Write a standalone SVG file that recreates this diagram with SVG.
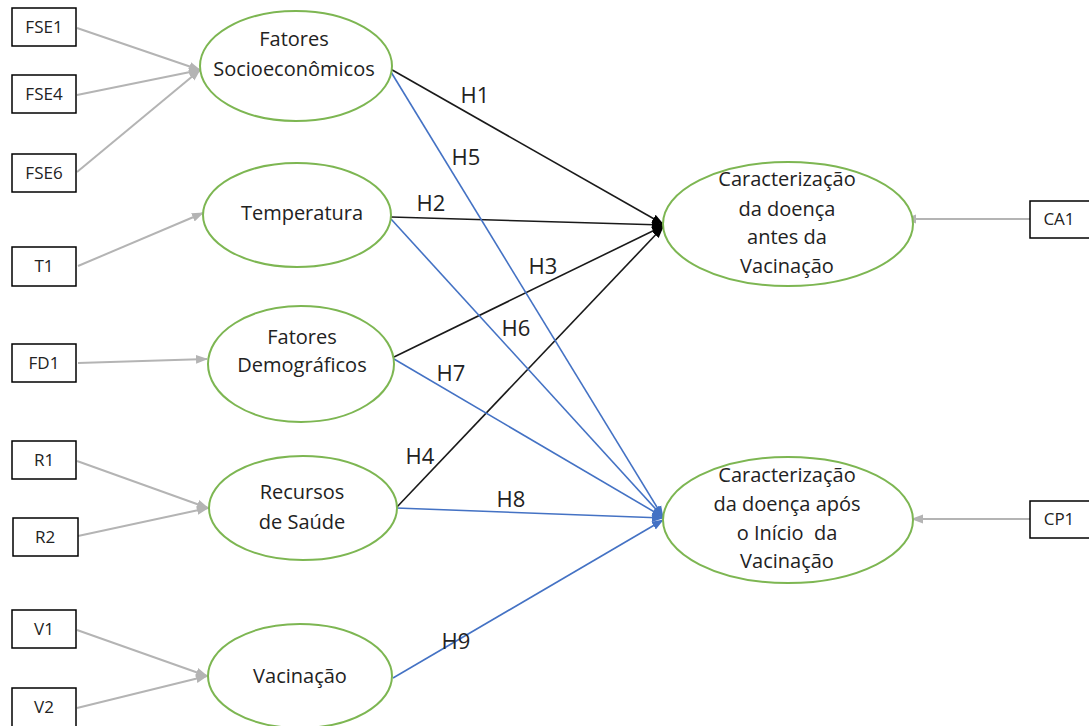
<svg xmlns="http://www.w3.org/2000/svg" width="1089" height="726" viewBox="0 0 1089 726">
<style>
.box{fill:#fff;stroke:#000;stroke-width:1.5}
.ell{fill:#fff;stroke:#7DB652;stroke-width:2}
.t{font-family:"Open Sans","Liberation Sans",sans-serif;fill:#222;text-anchor:middle}
.tb{font-size:17px}
.te{font-size:20px}
.th{font-size:22px}
.g{stroke:#B4B4B4;stroke-width:2;fill:none;marker-end:url(#ag)}
.k{stroke:#1a1a1a;stroke-width:1.6;fill:none;marker-end:url(#ak)}
.b{stroke:#4472C4;stroke-width:1.6;fill:none;marker-end:url(#ab)}
</style>
<defs>
<marker id="ag" markerUnits="userSpaceOnUse" markerWidth="12" markerHeight="12" viewBox="0 0 12 12" refX="11" refY="6" orient="auto"><path d="M0,1.5 L12,6 L0,10.5 Z" fill="#B4B4B4"/></marker>
<marker id="ak" markerUnits="userSpaceOnUse" markerWidth="12" markerHeight="12" viewBox="0 0 12 12" refX="11" refY="6" orient="auto"><path d="M0,1.5 L12,6 L0,10.5 Z" fill="#000"/></marker>
<marker id="ab" markerUnits="userSpaceOnUse" markerWidth="12" markerHeight="12" viewBox="0 0 12 12" refX="11" refY="6" orient="auto"><path d="M0,1.5 L12,6 L0,10.5 Z" fill="#4472C4"/></marker>
</defs>
<rect width="1089" height="726" fill="#fff"/>
<g id="connectors">
<line class="g" x1="77" y1="28" x2="200" y2="70"/>
<line class="g" x1="77" y1="95" x2="200" y2="70"/>
<line class="g" x1="77" y1="172" x2="200" y2="70"/>
<line class="g" x1="78" y1="266" x2="203" y2="213"/>
<line class="g" x1="78" y1="363" x2="207" y2="359"/>
<line class="g" x1="77" y1="461" x2="208" y2="508"/>
<line class="g" x1="78" y1="536" x2="208" y2="508"/>
<line class="g" x1="77" y1="630" x2="207" y2="676"/>
<line class="g" x1="77" y1="708" x2="207" y2="676"/>
<line class="g" x1="1030" y1="219" x2="905" y2="219"/>
<line class="g" x1="1030" y1="519" x2="912" y2="519"/>
<line class="k" x1="387" y1="67" x2="663" y2="224"/>
<line class="k" x1="391" y1="217" x2="663" y2="225"/>
<line class="k" x1="394" y1="357" x2="663" y2="226"/>
<line class="k" x1="396" y1="508" x2="663" y2="227"/>
<line class="b" x1="391" y1="72" x2="663" y2="517"/>
<line class="b" x1="391" y1="219" x2="663" y2="517"/>
<line class="b" x1="394" y1="359" x2="663" y2="517"/>
<line class="b" x1="396" y1="508" x2="663" y2="518"/>
<line class="b" x1="393" y1="678" x2="663" y2="520"/>
<text class="t th" x="475" y="103">H1</text>
<text class="t th" x="466" y="165">H5</text>
<text class="t th" x="431" y="211">H2</text>
<text class="t th" x="543" y="274">H3</text>
<text class="t th" x="516" y="336">H6</text>
<text class="t th" x="451" y="381">H7</text>
<text class="t th" x="420" y="464">H4</text>
<text class="t th" x="511" y="507">H8</text>
<text class="t th" x="456" y="649">H9</text>
</g>
<g id="FSE1"><rect class="box" x="12" y="8" width="64" height="38"/><text class="t tb" x="44" y="33">FSE1</text></g>
<g id="FSE4"><rect class="box" x="12" y="75" width="64" height="38"/><text class="t tb" x="44" y="100">FSE4</text></g>
<g id="FSE6"><rect class="box" x="12" y="154" width="64" height="38"/><text class="t tb" x="44" y="179">FSE6</text></g>
<g id="T1"><rect class="box" x="12" y="247" width="64" height="39"/><text class="t tb" x="44" y="272">T1</text></g>
<g id="FD1"><rect class="box" x="12" y="344" width="64" height="38"/><text class="t tb" x="44" y="369">FD1</text></g>
<g id="R1"><rect class="box" x="12" y="441" width="64" height="38"/><text class="t tb" x="44" y="466">R1</text></g>
<g id="R2"><rect class="box" x="13" y="518" width="65" height="38"/><text class="t tb" x="45" y="543">R2</text></g>
<g id="V1"><rect class="box" x="12" y="610" width="64" height="38"/><text class="t tb" x="44" y="635">V1</text></g>
<g id="V2"><rect class="box" x="12" y="688" width="64" height="40"/><text class="t tb" x="44" y="713">V2</text></g>
<g id="CA1"><rect class="box" x="1030" y="201" width="60" height="37"/><text class="t tb" x="1059" y="225">CA1</text></g>
<g id="CP1"><rect class="box" x="1030" y="501" width="60" height="37"/><text class="t tb" x="1059" y="525">CP1</text></g>
<g id="socio"><ellipse class="ell" cx="296" cy="66" rx="96" ry="55"/><text class="t te" x="294" y="46">Fatores</text><text class="t te" x="294" y="76">Socioeconômicos</text></g>
<g id="temp"><ellipse class="ell" cx="297" cy="215" rx="94" ry="52"/><text class="t te" x="302" y="220">Temperatura</text></g>
<g id="demo"><ellipse class="ell" cx="301" cy="364" rx="93" ry="58"/><text class="t te" x="302" y="344">Fatores</text><text class="t te" x="302" y="372">Demográficos</text></g>
<g id="recursos"><ellipse class="ell" cx="303" cy="508" rx="94" ry="52"/><text class="t te" x="302" y="499">Recursos</text><text class="t te" x="302" y="529">de Saúde</text></g>
<g id="vacina"><ellipse class="ell" cx="300" cy="676" rx="92" ry="52"/><text class="t te" x="300" y="683">Vacinação</text></g>
<g id="antes"><ellipse class="ell" cx="788" cy="224" rx="125" ry="62"/><text class="t te" x="787" y="186">Caracterização</text><text class="t te" x="787" y="216">da doença</text><text class="t te" x="787" y="244">antes da</text><text class="t te" x="787" y="273">Vacinação</text></g>
<g id="apos"><ellipse class="ell" cx="788" cy="520" rx="125" ry="63"/><text class="t te" x="787" y="482">Caracterização</text><text class="t te" x="787" y="511">da doença após</text><text class="t te" x="787" y="540" xml:space="preserve">o Início  da</text><text class="t te" x="787" y="568">Vacinação</text></g>
</svg>
